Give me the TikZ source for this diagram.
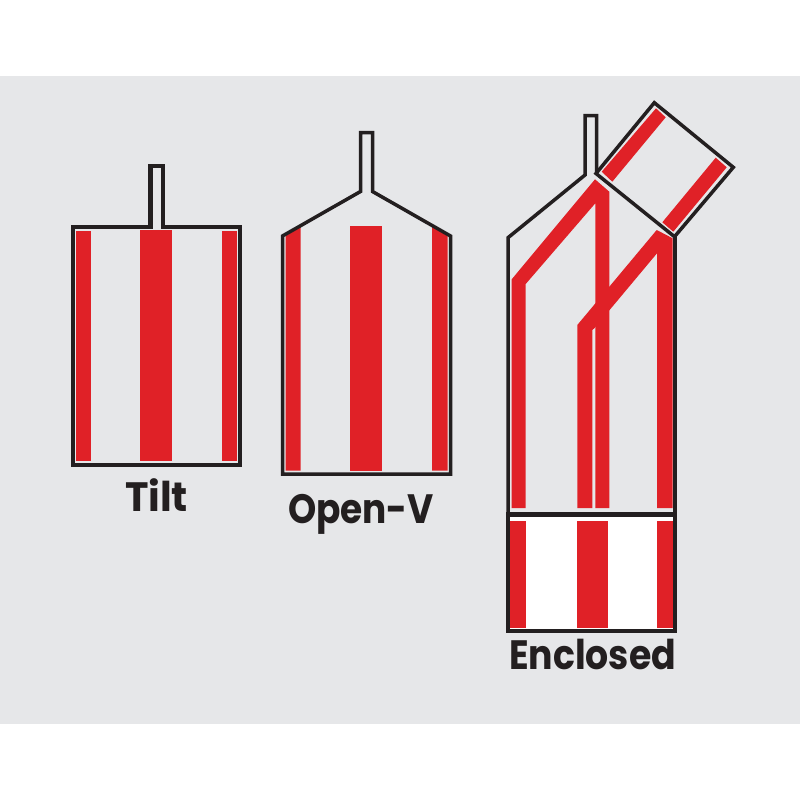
\documentclass[tikz,border=0pt]{standalone}
\usepackage{fontspec}
\setmainfont{Poppins}
\definecolor{panel}{HTML}{E6E7E9}
\definecolor{band}{HTML}{E02127}
\definecolor{ink}{HTML}{231F20}
\newcommand{\fitlabel}[2]{\resizebox{#1pt}{\height}{#2}}
\tikzset{
  outline/.style={draw=ink,line width=3.5pt,miter limit=10,line join=miter},
  heavy outline/.style={outline,line width=4.5pt},
  band fill/.style={fill=band,draw=none},
  caption/.style={text=ink,font=\bfseries\fontsize{41}{41}\selectfont,inner sep=0pt,anchor=base}
}
\begin{document}
\begin{tikzpicture}[x=1pt,y=-1pt]
\useasboundingbox (0,0) rectangle (800,800);
\fill[white] (0,0) rectangle (800,800);
\fill[panel] (0,76) rectangle (800,724);

% Tilt
\fill[band fill] (75.5,231) rectangle (91,461);
\fill[band fill] (140,230) rectangle (171.5,461);
\fill[band fill] (221.5,231) rectangle (237,461);
\draw[heavy outline] (150.5,227) -- (150.5,166) -- (163,166) -- (163,227) -- (240,227)
  -- (240,465) -- (73,465) -- (73,227) -- cycle;
\node[caption] (tilt) at (156.5,511.7) {\fitlabel{63}{Tilt}};

% Open-V
\fill[band fill] (285.5,236) -- (300.5,226.5) -- (300.5,470.5) -- (285.5,470.5) -- cycle;
\fill[band fill] (350,226) rectangle (381.5,470.5);
\fill[band fill] (432,226.5) -- (447.5,236) -- (447.5,470.5) -- (432,470.5) -- cycle;
\draw[outline] (360.5,191.5) -- (360.5,132.5) -- (372.5,132.5) -- (372.5,191.5)
  -- (450.5,236) -- (450.5,474) -- (282.5,474) -- (282.5,236) -- cycle;
\node[caption] (openv) at (361,523) {\fitlabel{146}{Open-V}};

% Enclosed: sliding white section
\fill[white] (508,514.5) rectangle (675,631);
\fill[band fill] (510,520.5) rectangle (526,627.5);
\fill[band fill] (576.5,520.5) rectangle (607.5,627.5);
\fill[band fill] (656.5,520.5) rectangle (673,627.5);

% Enclosed: bands in the upper section
\fill[band fill] (511.7,508) -- (511.7,279.3) -- (595,179.3) -- (609.3,191.7) -- (609.3,508)
  -- (595.3,508) -- (595.3,203.3) -- (525.7,284) -- (525.7,508) -- cycle;
\fill[band fill] (577.3,508) -- (577.3,325) -- (656.7,230) -- (672.7,238.3) -- (672.7,508)
  -- (657,508) -- (657,253.3) -- (594.3,328.3) -- (592.3,330) -- (592.3,508) -- cycle;

% Enclosed: bands in the tilted panel
\fill[band fill] (656,108.3) -- (665.7,117.3) -- (612.3,181.7) -- (601.7,171.7) -- cycle;
\fill[band fill] (715.7,157.7) -- (726.7,167.3) -- (673.3,231.7) -- (662.3,222.3) -- cycle;

% Enclosed: outlines
\draw[outline] (596,173.5) -- (654.3,102.7) -- (733.3,167.3) -- (674.5,236.7) -- cycle;
\draw[outline] (596.5,173) -- (596.5,115.5) -- (585,115.5) -- (585,175) -- (508,237.7) -- (508,514.5);
\draw[outline] (675,236.7) -- (675,514.5);
\draw[heavy outline] (508,514.5) rectangle (675,631);
\node[caption] (enclosed) at (592.5,669) {\fitlabel{167}{Enclosed}};
\end{tikzpicture}
\end{document}
